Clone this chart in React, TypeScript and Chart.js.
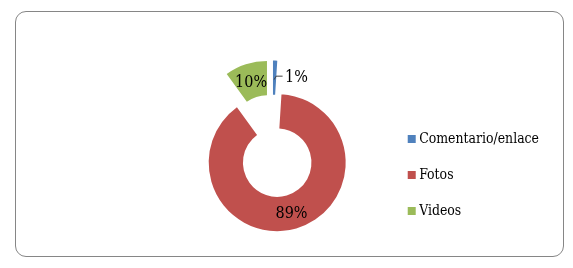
import React, { useEffect, useRef } from 'react';
import { Chart, registerables } from 'chart.js';

Chart.register(...registerables);

const categories = ['Comentario/enlace', 'Fotos', 'Videos'];
const shares = [1, 89, 10];
const sliceColors = ['#4F81BD', '#C0504D', '#9BBB59'];

const FONT = '"DejaVu Serif Condensed", "Liberation Serif", serif';

export default function App() {
  const ref = useRef<HTMLCanvasElement>(null);

  useEffect(() => {
    if (!ref.current) return;

    const explodePlugin = {
      id: 'explode',
      afterDatasetsUpdate(chart: any, _args: any, opts: any) {
        const meta = chart.getDatasetMeta(0);
        meta.data.forEach((arc: any, i: number) => {
          const d = (opts.distances && opts.distances[i]) || 0;
          const mid = (arc.startAngle + arc.endAngle) / 2;
          arc.x += Math.cos(mid) * d;
          arc.y += Math.sin(mid) * d;
        });
      },
    };

    const labelPlugin = {
      id: 'sliceLabels',
      afterDatasetsDraw(chart: any) {
        const ctx = chart.ctx;
        const meta = chart.getDatasetMeta(0);
        const data = chart.data.datasets[0].data as number[];
        const total = data.reduce((a, b) => a + b, 0);
        ctx.save();
        ctx.font = `16px ${FONT}`;
        ctx.fillStyle = '#000';
        ctx.textBaseline = 'middle';
        meta.data.forEach((arc: any, i: number) => {
          const frac = data[i] / total;
          const text = Math.round(frac * 100) + '%';
          const p = arc.getCenterPoint();
          if (frac < 0.05) {
            ctx.strokeStyle = '#404040';
            ctx.lineWidth = 1;
            ctx.beginPath();
            ctx.moveTo(p.x - 0.5, p.y + 2);
            ctx.lineTo(p.x + 1.5, p.y - 1.5);
            ctx.lineTo(p.x + 8, p.y - 1.5);
            ctx.stroke();
            ctx.textAlign = 'left';
            ctx.fillText(text, p.x + 10.5, p.y + 0.5);
          } else {
            ctx.textAlign = 'center';
            ctx.fillText(text, p.x, p.y + 2);
          }
        });
        ctx.restore();
      },
    };

    const chart = new Chart(ref.current, {
      type: 'doughnut',
      data: {
        labels: categories,
        datasets: [
          {
            data: shares,
            backgroundColor: sliceColors,
            borderWidth: 0,
          },
        ],
      },
      options: {
        animation: false,
        responsive: false,
        maintainAspectRatio: false,
        radius: 68.5,
        cutout: '50%',
        layout: { padding: { left: 155.75, right: 24, top: 24.6, bottom: 0 } },
        plugins: {
          explode: { distances: [17.3, 17, 17.7] },
          tooltip: { enabled: false },
          legend: {
            position: 'right',
            title: {
              display: true,
              text: '',
              font: { size: 10 },
              padding: { top: 0, bottom: 45.4 },
            },
            labels: {
              usePointStyle: true,
              pointStyle: 'rect',
              boxWidth: 1,
              boxHeight: 8,
              padding: 22.1,
              color: '#000',
              font: { family: FONT, size: 13.9 },
            },
          },
        } as any,
      },
      plugins: [explodePlugin, labelPlugin],
    });

    return () => chart.destroy();
  }, []);

  return (
    <div style={{ position: 'absolute', left: 0, top: 0, width: 573, height: 268, background: '#fff' }}>
      <div
        style={{
          position: 'absolute',
          left: 15,
          top: 11,
          width: 549,
          height: 246,
          boxSizing: 'border-box',
          border: '1px solid #868686',
          borderRadius: 11,
        }}
      />
      <canvas
        ref={ref}
        width={573}
        height={268}
        style={{ position: 'absolute', left: 0, top: 0, width: 573, height: 268 }}
      />
    </div>
  );
}
